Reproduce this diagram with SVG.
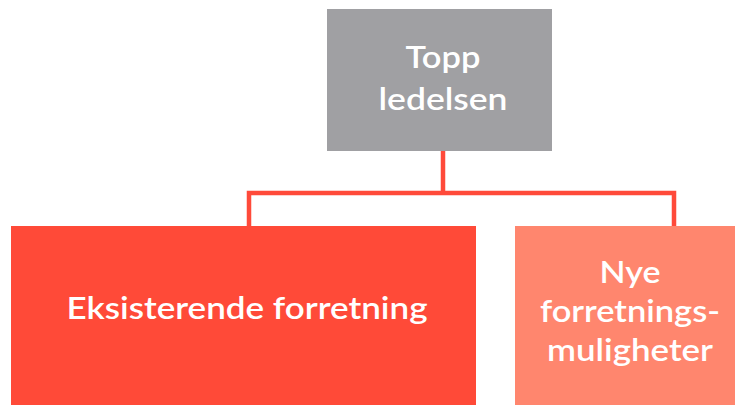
<svg xmlns="http://www.w3.org/2000/svg" width="735" height="405" viewBox="0 0 735 405">
  <style>
    .lbl { font-family: "Lato", "Open Sans", "Liberation Sans", sans-serif; font-weight: 600; fill: #ffffff; text-anchor: middle; }
    .conn { stroke: #FF4A3A; stroke-width: 4.5; fill: none; stroke-linejoin: miter; }
  </style>
  <rect width="735" height="405" fill="#ffffff"/>
  <g id="connectors">
    <path class="conn" d="M443,151 V193"/>
    <path class="conn" d="M249,226 V193 H674 V226"/>
  </g>
  <g id="node-topp">
    <rect x="327" y="9" width="225" height="142" fill="#A0A0A3"/>
    <text class="lbl" x="443" y="68" font-size="30" textLength="75" lengthAdjust="spacingAndGlyphs">Topp</text>
    <text class="lbl" x="443" y="110" font-size="30" textLength="129" lengthAdjust="spacingAndGlyphs">ledelsen</text>
  </g>
  <g id="node-eksisterende">
    <rect x="11" y="226" width="465" height="179" fill="#FF4A38"/>
    <text class="lbl" x="247" y="319" font-size="31" textLength="361" lengthAdjust="spacingAndGlyphs">Eksisterende forretning</text>
  </g>
  <g id="node-nye">
    <rect x="515" y="226" width="230" height="179" fill="#FF866E"/>
    <text class="lbl" x="630" y="283" font-size="30" textLength="61" lengthAdjust="spacingAndGlyphs">Nye</text>
    <text class="lbl" x="630" y="322" font-size="30" textLength="180" lengthAdjust="spacingAndGlyphs">forretnings-</text>
    <text class="lbl" x="630" y="361" font-size="30" textLength="166" lengthAdjust="spacingAndGlyphs">muligheter</text>
  </g>
</svg>
